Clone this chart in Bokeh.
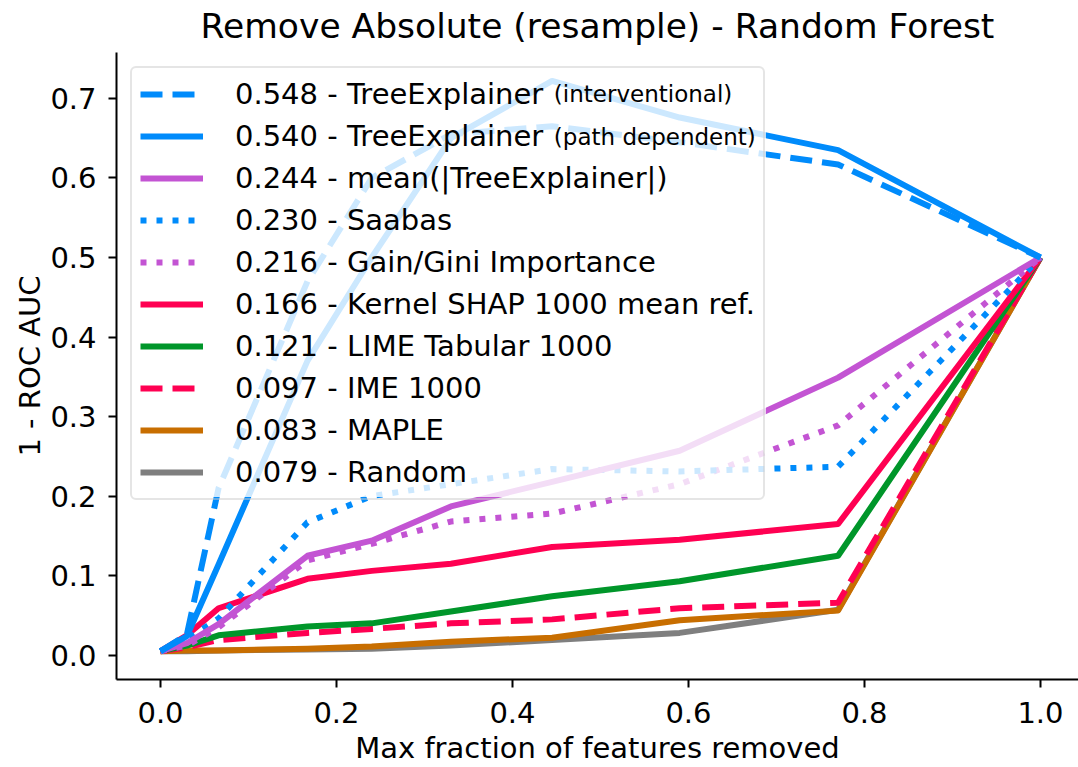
from bokeh.plotting import figure
from bokeh.models import Range1d, FixedTicker, Legend, LegendItem, Label
from bokeh.embed import file_html
from bokeh.resources import INLINE

# Fraction of features removed at each evaluation step
frac_removed = [0.0, 0.03, 0.066, 0.167, 0.24, 0.33, 0.445, 0.59, 0.77, 1.0]

# 1 - ROC AUC for each explanation method
tree_interventional = [0.005, 0.026, 0.21, 0.47, 0.60, 0.655, 0.665, 0.645, 0.617, 0.5]
tree_path_dependent = [0.005, 0.024, 0.114, 0.37, 0.50, 0.65, 0.722, 0.676, 0.635, 0.5]
mean_abs_tree = [0.005, 0.015, 0.039, 0.125, 0.144, 0.187, 0.218, 0.257, 0.349, 0.5]
saabas = [0.005, 0.02, 0.046, 0.167, 0.200, 0.215, 0.234, 0.231, 0.237, 0.5]
gain_gini = [0.005, 0.012, 0.035, 0.119, 0.140, 0.168, 0.178, 0.215, 0.289, 0.5]
kernel_shap = [0.005, 0.025, 0.059, 0.096, 0.106, 0.115, 0.136, 0.145, 0.165, 0.5]
lime_tabular = [0.005, 0.012, 0.025, 0.036, 0.040, 0.055, 0.074, 0.093, 0.125, 0.5]
ime = [0.005, 0.010, 0.019, 0.028, 0.033, 0.040, 0.045, 0.059, 0.066, 0.5]
maple = [0.005, 0.006, 0.006, 0.008, 0.011, 0.017, 0.022, 0.044, 0.056, 0.5]
random_baseline = [0.005, 0.005, 0.006, 0.007, 0.008, 0.012, 0.019, 0.028, 0.057, 0.5]

# Area under each curve, shown in the legend
auc_scores = [0.548, 0.540, 0.244, 0.230, 0.216, 0.166, 0.121, 0.097, 0.083, 0.079]
method_names = [
    "TreeExplainer", "TreeExplainer", "mean(|TreeExplainer|)", "Saabas",
    "Gain/Gini Importance", "Kernel SHAP 1000 mean ref.", "LIME Tabular 1000",
    "IME 1000", "MAPLE", "Random",
]
name_suffixes = ["(interventional)", "(path dependent)"]

x_ticks = [0.0, 0.2, 0.4, 0.6, 0.8, 1.0]
x_tick_labels = ["0.0", "0.2", "0.4", "0.6", "0.8", "1.0"]
y_ticks = [0.0, 0.1, 0.2, 0.3, 0.4, 0.5, 0.6, 0.7]
y_tick_labels = ["0.0", "0.1", "0.2", "0.3", "0.4", "0.5", "0.6", "0.7"]

series_values = [
    tree_interventional, tree_path_dependent, mean_abs_tree, saabas, gain_gini,
    kernel_shap, lime_tabular, ime, maple, random_baseline,
]

BLUE = "#008bfb"
PURPLE = "#c354d3"
RED = "#ff0052"
GREEN = "#00962a"
ORANGE = "#c86e00"
GRAY = "#7f7f7f"
DASHED = "22 10"
DOTTED = "6 10"
series_styles = [
    (BLUE, DASHED), (BLUE, "solid"), (PURPLE, "solid"), (BLUE, DOTTED),
    (PURPLE, DOTTED), (RED, "solid"), (GREEN, "solid"), (RED, DASHED),
    (ORANGE, "solid"), (GRAY, "solid"),
]

FONT = "DejaVu Sans"

p = figure(
    width=1078, height=767, output_backend="svg", toolbar_location=None,
    x_range=Range1d(-0.05, 1.0432), y_range=Range1d(-0.0306, 0.7578),
    min_border_left=116, min_border_right=0, min_border_top=52, min_border_bottom=86,
    title="Remove Absolute (resample) - Random Forest",
)
p.title.text_font = FONT
p.title.text_font_size = "34.5px"
p.title.text_font_style = "normal"
p.title.align = "center"
p.title.vertical_align = "top"
p.title.text_color = "black"
p.outline_line_color = None
p.grid.visible = False
p.background_fill_color = "white"
p.border_fill_color = "white"

p.xaxis.axis_label = "Max fraction of features removed"
p.yaxis.axis_label = "1 - ROC AUC"
p.xaxis.ticker = FixedTicker(ticks=x_ticks)
p.yaxis.ticker = FixedTicker(ticks=y_ticks)
p.xaxis.major_label_overrides = dict(zip(x_ticks, x_tick_labels))
p.yaxis.major_label_overrides = dict(zip(y_ticks, y_tick_labels))

for ax in (p.xaxis[0], p.yaxis[0]):
    ax.axis_line_width = 2
    ax.axis_line_color = "black"
    ax.major_tick_line_width = 2
    ax.major_tick_line_color = "black"
    ax.major_tick_out = 8
    ax.major_tick_in = 0
    ax.minor_tick_line_color = None
    ax.major_label_text_font = FONT
    ax.major_label_text_font_size = "29px"
    ax.major_label_text_color = "black"
    ax.axis_label_text_font = FONT
    ax.axis_label_text_font_size = "29px"
    ax.axis_label_text_font_style = "normal"
    ax.axis_label_text_color = "black"
p.xaxis.major_label_standoff = 14
p.xaxis.axis_label_standoff = 5
p.yaxis.major_label_standoff = 12
p.yaxis.axis_label_standoff = 0

# Draw from the last legend entry up so the leading methods sit on top
renderers = [None] * len(series_values)
for i in reversed(range(len(series_values))):
    color, dash = series_styles[i]
    renderers[i] = p.line(
        frac_removed, series_values[i], line_color=color, line_width=6,
        line_dash=dash, line_join="round",
    )

# Translucent white panel behind the legend, fading the lines it covers
p.quad(left=-0.0341, right=0.6880, bottom=0.1990, top=0.7405,
       fill_color="white", fill_alpha=0.8, line_color=None)

items = [
    LegendItem(label=f"{score:.3f} - {name}", renderers=[r])
    for score, name, r in zip(auc_scores, method_names, renderers)
]
legend = Legend(
    items=items, location="top_left", margin=14, padding=8, spacing=6,
    glyph_width=63, glyph_height=36, label_height=36, label_standoff=32,
    label_text_font=FONT, label_text_font_size="29px", label_text_color="black",
    border_line_color="#cccccc", border_line_width=2,
    background_fill_alpha=0.0,
)
try:
    legend.border_radius = 6
except Exception:
    pass
p.add_layout(legend)

# Smaller qualifiers after the two TreeExplainer entries
for k, suffix in enumerate(name_suffixes):
    p.add_layout(Label(
        x=0.447, y=0.705 - k * 0.0529, text=suffix, text_font=FONT,
        text_font_size="23px", text_baseline="alphabetic", text_color="black",
    ))

open("out.html", "w").write(file_html(p, INLINE))
